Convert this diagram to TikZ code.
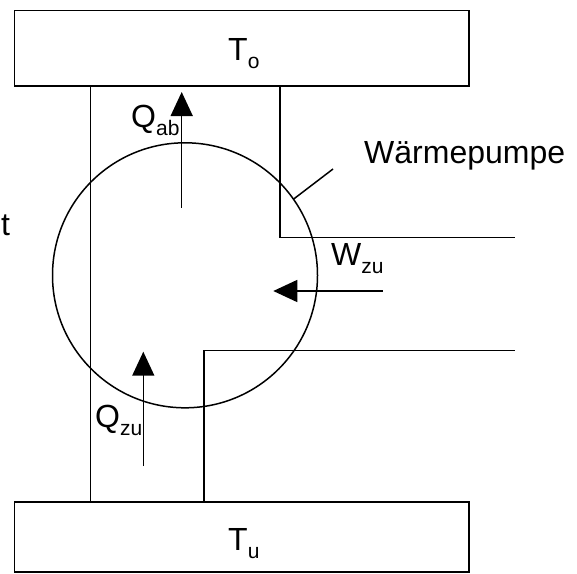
\documentclass[tikz,border=0pt]{standalone}
\usepackage{fontspec}
\setmainfont{Liberation Sans}
\usetikzlibrary{arrows.meta}
\newcommand{\lowsub}[1]{\raisebox{-8pt}{\fontsize{21}{21}\selectfont #1}}
\tikzset{
  ln/.style={line width=1.5pt, black},
  flow/.style={ln, -{Triangle[length=24pt,width=22pt]}},
  lbl/.style={anchor=base west, inner sep=0pt, font=\fontsize{32}{32}\selectfont}
}
\begin{document}
\begin{tikzpicture}[x=1pt,y=-1pt]
\useasboundingbox (0,0) rectangle (577,573);
% reservoirs
\draw[ln] (14.7,10.7) rectangle (469,86);
\draw[ln] (14.7,572) -- (14.7,502) -- (469,502) -- (469,572) -- cycle;
% columns
\draw[ln] (90.3,86) -- (90.3,502);
\draw[ln] (280,86) -- (280,237.3) -- (515,237.3);
\draw[ln] (204,502) -- (204,350.7) -- (515,350.7);
% circle
\draw[ln] (185,275.3) circle (132.5);
% leader
\coordinate (l1) at (293.3,199.3);
\coordinate (l2) at (333,169);
\draw[ln] (l1) -- (l2);
% arrows
\coordinate (qab1) at (181.7,207.7);
\coordinate (qab2) at (181.7,92);
\draw[flow] (qab1) -- (qab2);
\coordinate (qzu1) at (143.3,466);
\coordinate (qzu2) at (143.3,351.7);
\draw[flow] (qzu1) -- (qzu2);
\coordinate (w1) at (382.7,291);
\coordinate (w2) at (273.3,291);
\draw[flow] (w1) -- (w2);
% labels
\node[lbl] (To) at (228,60) {T\lowsub{o}};
\node[lbl] (Tu) at (228,550) {T\lowsub{u}};
\node[lbl] (Qab) at (131,127) {Q\lowsub{ab}};
\node[lbl] (Qzu) at (95,427) {Q\lowsub{zu}};
\node[lbl] (Wzu) at (331,265) {W\lowsub{zu}};
\node[lbl] (WP) at (364,163) {Wärmepumpe};
\node[lbl] (t) at (1,235) {t};
\end{tikzpicture}
\end{document}
